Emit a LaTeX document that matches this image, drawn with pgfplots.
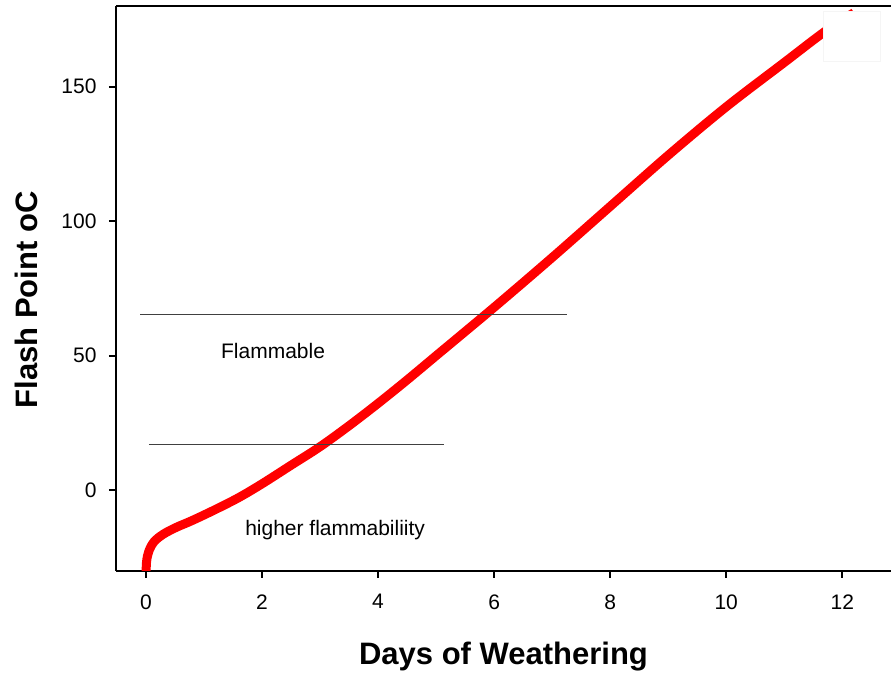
\documentclass[border=0pt]{standalone}
\usepackage{fontspec}
\setmainfont{Liberation Sans}
\usepackage{pgfplots}
\pgfplotsset{compat=1.18}

\begin{document}
\begin{tikzpicture}
\begin{axis}[
	scale only axis,
	width=775pt, height=565pt,
	xmin=-0.517, xmax=12.84,
	ymin=-30, ymax=180,
	axis x line*=box, axis y line*=left,
	axis line style={line width=2pt},
	xtick pos=bottom, ytick pos=left,
	tick align=outside,
	major tick length=7pt,
	every tick/.style={line width=2pt, black},
	xtick={0,2,4,6,8,10,12},
	ytick={0,50,100,150},
	/pgf/number format/assume math mode=true,
	tick label style={font=\fontsize{21}{24}\selectfont},
	xticklabel style={yshift=-13pt},
	yticklabel style={xshift=-9pt},
	xlabel={Days of Weathering},
	ylabel={Flash Point oC},
	label style={font=\fontsize{31}{36}\selectfont\bfseries},
	xlabel style={at={(axis description cs:0.5,-0.152)}, anchor=center},
	ylabel style={at={(axis description cs:-0.115,0.48)}, anchor=center},
	clip=true,
]
% flash point curve
\addplot[red, line width=9pt, smooth, tension=0.55] coordinates {
(0,-32) (0.01,-26.5) (0.05,-22.6) (0.14,-19.1) (0.3,-16.3) (0.52,-13.8)
(0.8,-11.2) (1.2,-7.1) (1.6,-2.7) (2,2.4) (2.5,9.3) (3,16.2) (3.5,24)
(4,32.3) (4.5,41) (5,50) (6,68) (7,86.5) (8,105.5) (9,124.5) (10,142.5)
(11,159) (11.7,170.5) (12.2,177.5)
};
% threshold lines
\addplot[black!75, line width=1.1pt] coordinates {(-0.1,65.5) (7.26,65.5)};
\addplot[black!75, line width=1.1pt] coordinates {(0.05,17.1) (5.14,17.1)};
% white patch covering the top right
\addplot[draw=black!4, fill=white, line width=0.5pt] coordinates {
(11.67,159.3) (12.66,159.3) (12.66,177.9) (11.67,177.9)} -- cycle;
\node[font=\fontsize{21}{24}\selectfont] at (axis cs:2.19,51.7) {Flammable};
\node[font=\fontsize{21}{24}\selectfont] at (axis cs:3.26,-14.9) {higher flammabiliity};
\end{axis}
\path ([shift={(-116pt,-103pt)}]current axis.south west) rectangle ([shift={(1pt,6pt)}]current axis.north east);
\end{tikzpicture}
\end{document}
